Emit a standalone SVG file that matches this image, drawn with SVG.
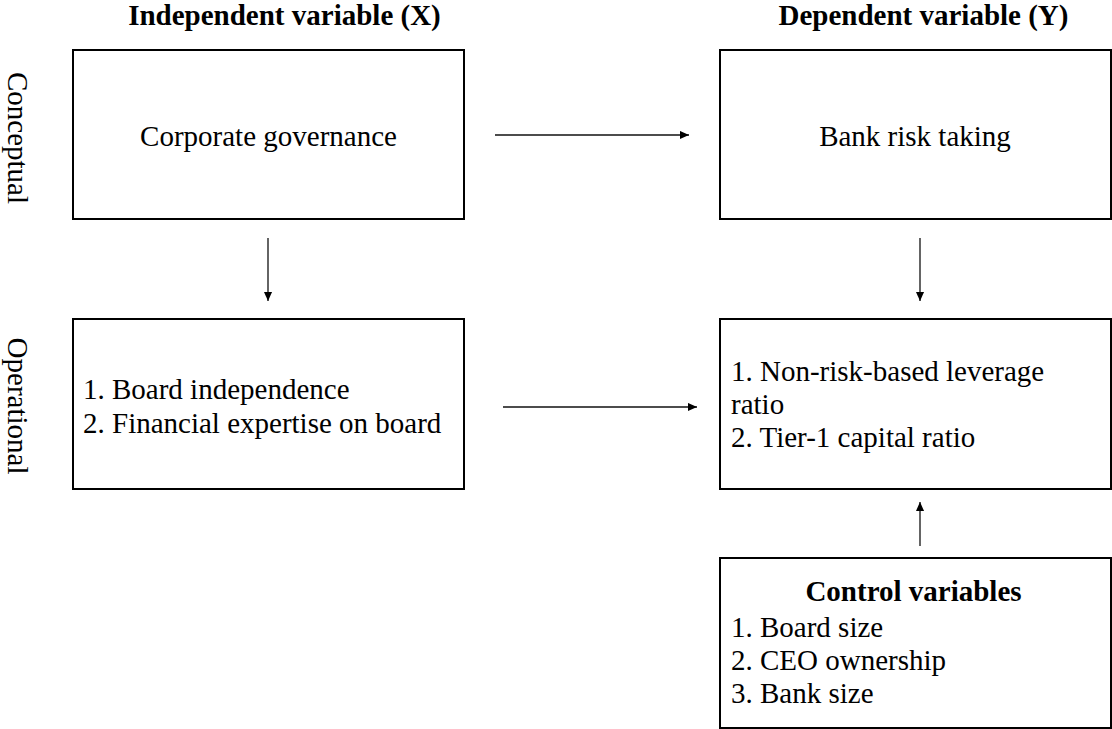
<svg xmlns="http://www.w3.org/2000/svg" width="1112" height="729" viewBox="0 0 1112 729">
<defs>
<marker id="ah" viewBox="0 0 10 10" refX="10" refY="5" markerWidth="9" markerHeight="9" markerUnits="userSpaceOnUse" orient="auto">
<path d="M0,0.5 L10,5 L0,9.5 z" fill="#000"/>
</marker>
<style>
.box{fill:#fff;stroke:#000;stroke-width:2}
.t{font-family:"Liberation Serif","Times New Roman",serif;font-size:29px;fill:#000}
.b{font-weight:bold}
.c{stroke:#111;stroke-width:1.3;fill:none;marker-end:url(#ah)}
</style>
</defs>
<rect width="1112" height="729" fill="#fff"/>
<text class="t b" x="284.5" y="25" text-anchor="middle">Independent variable (X)</text>
<text class="t b" x="923.5" y="25" text-anchor="middle">Dependent variable (Y)</text>
<text class="t" transform="translate(8,138) rotate(90)" text-anchor="middle">Conceptual</text>
<text class="t" transform="translate(8,406) rotate(90)" text-anchor="middle">Operational</text>
<g id="corporate-governance">
<rect class="box" x="73" y="50" width="391" height="169"/>
<text class="t" x="268.5" y="146" text-anchor="middle">Corporate governance</text>
</g>
<g id="bank-risk-taking">
<rect class="box" x="720" y="50" width="391" height="169"/>
<text class="t" x="915" y="146" text-anchor="middle">Bank risk taking</text>
</g>
<g id="board-measures">
<rect class="box" x="73" y="319" width="391" height="170"/>
<text class="t" x="83" y="399">1. Board independence</text>
<text class="t" x="83" y="433">2. Financial expertise on board</text>
</g>
<g id="risk-measures">
<rect class="box" x="720" y="319" width="391" height="170"/>
<text class="t" x="731" y="381">1. Non-risk-based leverage</text>
<text class="t" x="731" y="414">ratio</text>
<text class="t" x="731" y="447">2. Tier-1 capital ratio</text>
</g>
<g id="control-variables">
<rect class="box" x="720" y="558" width="391" height="170"/>
<text class="t b" x="913.5" y="601" text-anchor="middle">Control variables</text>
<text class="t" x="731" y="637">1. Board size</text>
<text class="t" x="731" y="670">2. CEO ownership</text>
<text class="t" x="731" y="703">3. Bank size</text>
</g>
<g id="connectors">
<line class="c" x1="495" y1="135" x2="689" y2="135"/>
<line class="c" x1="268" y1="238" x2="268" y2="301"/>
<line class="c" x1="920" y1="238" x2="920" y2="301"/>
<line class="c" x1="503" y1="407" x2="697" y2="407"/>
<line class="c" x1="920" y1="546" x2="920" y2="502"/>
</g>
</svg>
